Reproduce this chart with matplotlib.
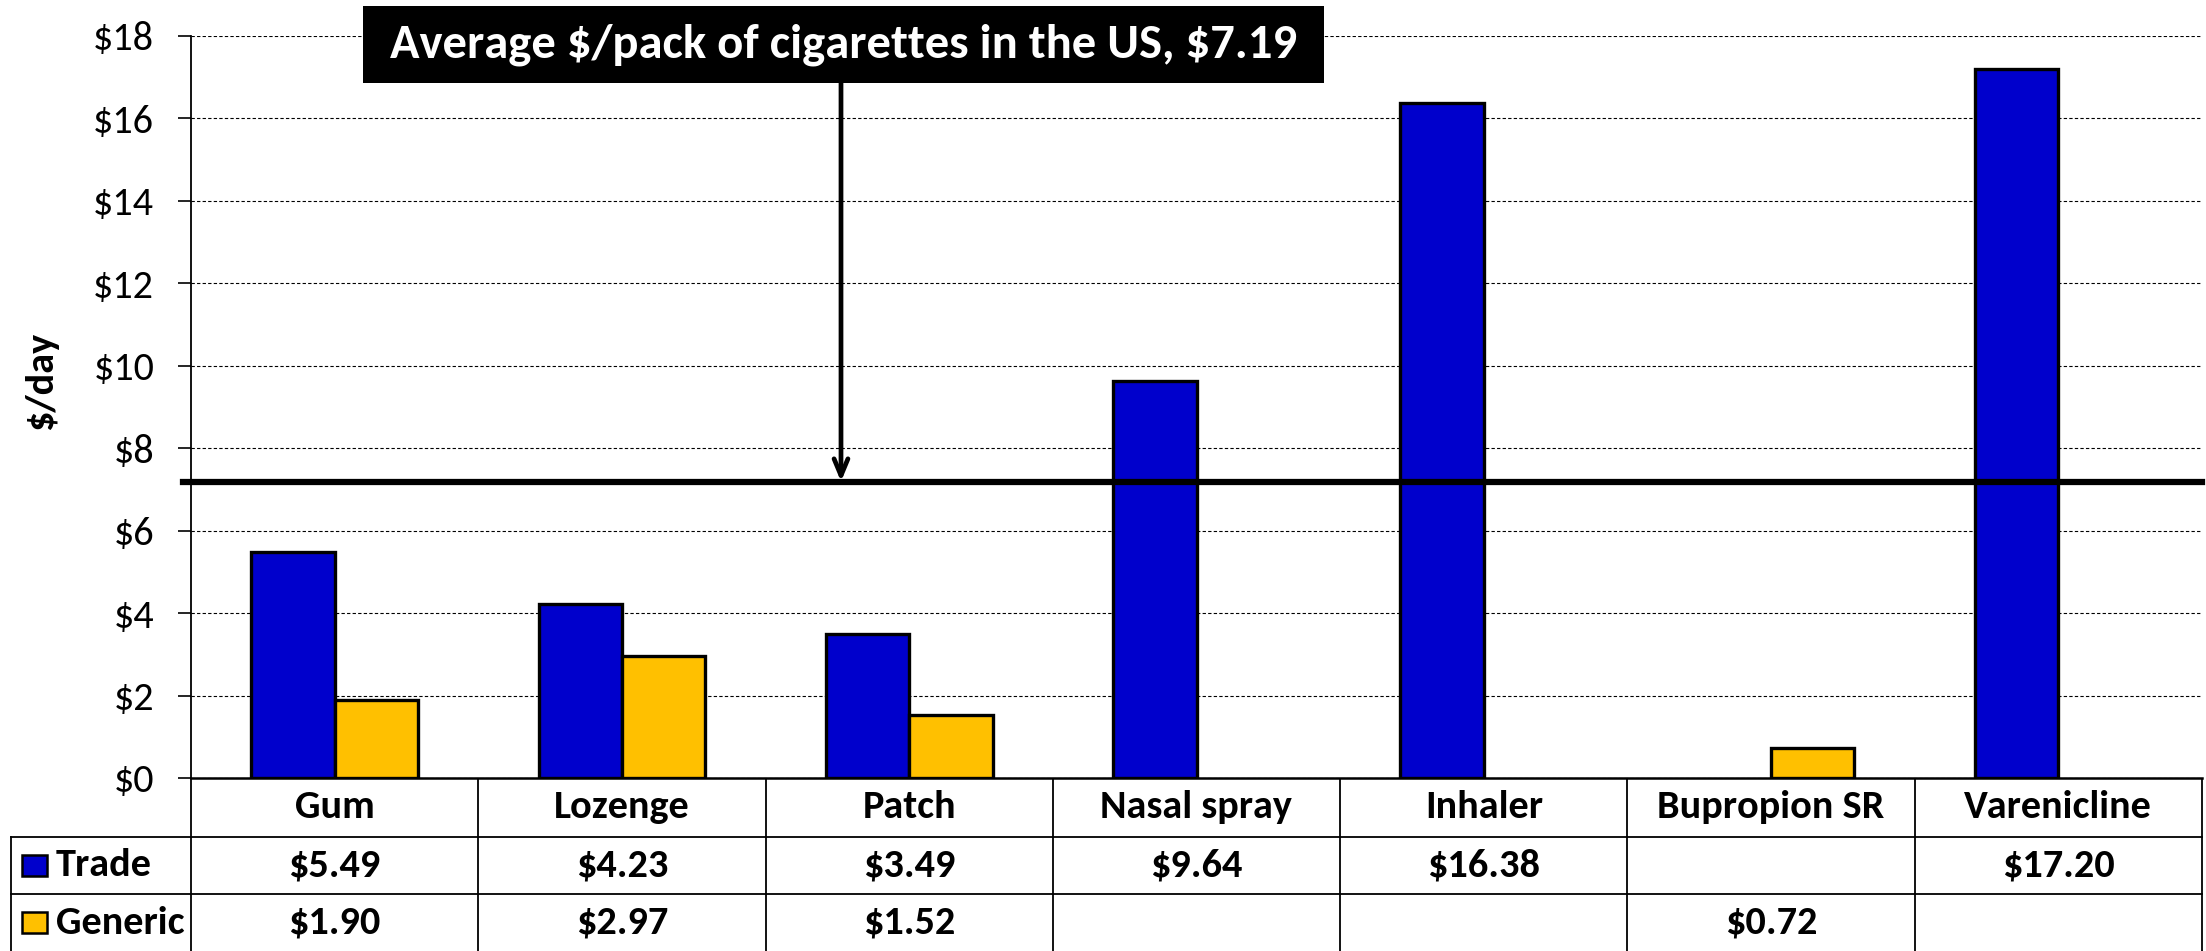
import matplotlib
matplotlib.use("Agg")
import matplotlib.pyplot as plt
import numpy as np
from matplotlib import font_manager

# cost per day of each cessation product
categories = ["Gum", "Lozenge", "Patch", "Nasal spray", "Inhaler", "Bupropion SR", "Varenicline"]
trade = [5.49, 4.23, 3.49, 9.64, 16.38, None, 17.20]
generic = [1.90, 2.97, 1.52, None, None, 0.72, None]
series_names = ["Trade", "Generic"]
yticks = [0, 2, 4, 6, 8, 10, 12, 14, 16, 18]
avg_pack = 7.19
avg_label = r"Average \$/pack of cigarettes in the US, \$7.19"


def pick_font(names):
    for n in names:
        try:
            font_manager.findfont(n, fallback_to_default=False)
            return n
        except Exception:
            pass
    return "DejaVu Sans"


FONT = pick_font(["Carlito", "Liberation Sans Narrow", "Liberation Sans"])
plt.rcParams['font.family'] = [FONT, 'DejaVu Sans']

BLUE = "#0000CC"
GOLD = "#FFC000"
W, H = 2206, 951

fig = plt.figure(figsize=(W / 100, H / 100), dpi=100)

# main plot area in pixel terms
left_px, right_px, top_px, base_px = 191, 2202, 36, 778
ax = fig.add_axes([left_px / W, (H - base_px) / H, (right_px - left_px) / W, (base_px - top_px) / H])

n = len(categories)
bw = 0.29
x = np.arange(n)
for i in range(n):
    if trade[i] is not None:
        ax.bar(x[i] - bw / 2, trade[i], bw, color=BLUE, edgecolor="black", linewidth=2.4, zorder=3)
    if generic[i] is not None:
        ax.bar(x[i] + bw / 2, generic[i], bw, color=GOLD, edgecolor="black", linewidth=2.4, zorder=3)

ax.set_xlim(-0.5, n - 0.5)
ax.set_ylim(0, 18)
ax.set_yticks(yticks)
ax.set_yticklabels([r"\$%d" % t for t in yticks], fontsize=29)
ax.tick_params(axis="y", direction="out", length=9.5, width=1.2, pad=17)
ax.set_xticks([])
ax.yaxis.grid(True, linestyle=(0, (3, 2)), color="black", linewidth=0.8)
ax.set_axisbelow(True)
for s in ["top", "right"]:
    ax.spines[s].set_visible(False)
ax.spines["left"].set_linewidth(1.3)
ax.spines["bottom"].set_linewidth(1.8)
ax.set_ylabel(r"\$/day", fontsize=29, fontweight="bold")
ax.yaxis.set_label_coords(-0.066, 0.535)

# average pack price line with callout
ax.axhline(avg_pack, xmin=-0.004, xmax=1.0, color="black", linewidth=4.5, zorder=4, clip_on=False)
arrow_x = (841 - left_px) / ((right_px - left_px) / n) - 0.5
ax.annotate("", xy=(arrow_x, avg_pack), xytext=(arrow_x, 17.0),
            arrowprops=dict(arrowstyle="->,head_length=1.2,head_width=0.5", color="black", lw=3.4,
                            shrinkA=0, shrinkB=0), zorder=5)
box_l, box_r, box_t, box_b = 363, 1324, 6, 83
fig.patches.append(plt.Rectangle((box_l / W, 1 - box_b / H), (box_r - box_l) / W, (box_b - box_t) / H,
                                 transform=fig.transFigure, facecolor="black", edgecolor="none", zorder=6))
fig.text((box_l + box_r) / 2 / W, 1 - (box_t + box_b) / 2 / H, avg_label, ha="center", va="center",
         color="white", fontsize=35, fontweight="bold", zorder=7)

# data table under the plot
colw = (right_px - left_px) / n
tab_left = -0.5 - (left_px - 11) / colw
tab = fig.add_axes([0, 0, 1, (H - base_px) / H])
tab.set_xlim(-0.5 - left_px / colw, -0.5 + (W - left_px) / colw)
tab.set_ylim(0, H - base_px)
tab.axis("off")
row_top = H - base_px
r1, r2 = row_top - 59, row_top - 116
lw_tab = 1.3
for i in range(n + 1):
    tab.plot([i - 0.5, i - 0.5], [0, row_top], color="black", lw=lw_tab)
tab.plot([tab_left, tab_left], [0, r1], color="black", lw=lw_tab)
tab.plot([tab_left, n - 0.5], [r1, r1], color="black", lw=lw_tab)
tab.plot([tab_left, n - 0.5], [r2, r2], color="black", lw=lw_tab)

fs_tab = 29
for i, c in enumerate(categories):
    tab.text(i, (row_top + r1) / 2, c, ha="center", va="center", fontsize=fs_tab, fontweight="bold")
for vals, yc in [(trade, (r1 + r2) / 2), (generic, r2 / 2)]:
    for i, v in enumerate(vals):
        if v is not None:
            tab.text(i, yc, r"\$%.2f" % v, ha="center", va="center", fontsize=fs_tab, fontweight="bold")

# legend keys inside the first column
key_w = 25 / colw
for name, col, yc in [(series_names[0], BLUE, (r1 + r2) / 2), (series_names[1], GOLD, r2 / 2)]:
    tab.add_patch(plt.Rectangle((tab_left + 11 / colw, yc - 10.5), key_w, 21,
                                facecolor=col, edgecolor="black", linewidth=1.8))
    tab.text(tab_left + 45 / colw, yc, name, ha="left", va="center", fontsize=fs_tab, fontweight="bold")

fig.savefig("out.png", dpi=100)
